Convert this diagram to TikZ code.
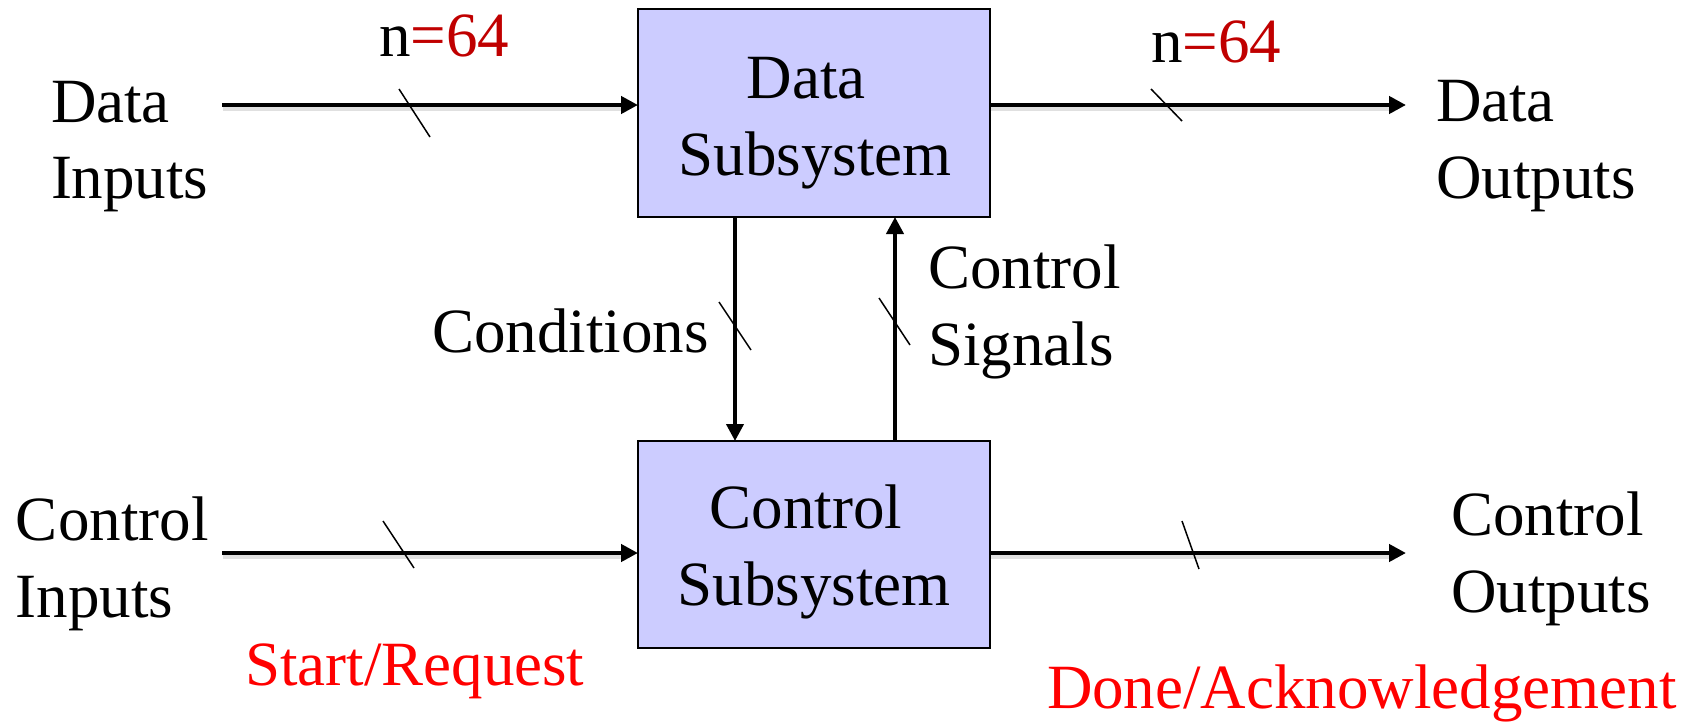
\documentclass[tikz,border=0pt]{standalone}
\usepackage{fontspec}
\setmainfont{Liberation Serif}
\usetikzlibrary{arrows.meta}
\definecolor{boxfill}{RGB}{204,204,255}
\definecolor{darkred}{RGB}{192,0,0}
\definecolor{brightred}{RGB}{255,0,0}
\begin{document}
\begin{tikzpicture}[x=1pt,y=-1pt,
  every node/.style={font=\fontsize{63}{77}\selectfont, inner sep=0pt, outer sep=0pt},
  sysbox/.style={draw=black, line width=2.5pt, fill=boxfill, minimum width=352pt, inner sep=0pt},
  arr/.style={line width=4.8pt, -{Triangle[length=17pt,width=17pt]}},
  shade/.style={line width=5pt, draw=black!12, transform canvas={xshift=1pt, yshift=-3pt}},
  tick/.style={line width=1.5pt},
  lbl/.style={anchor=base west},
  ctr/.style={anchor=base}
]
\useasboundingbox (0,0) rectangle (1703,723);

% boxes
\node[sysbox, minimum height=208pt] (ds) at (814,113) {};
\node[sysbox, minimum height=207pt] (cs) at (814,544.5) {};

% box texts
\node[ctr] (ds1) at (806,98) {Data};
\node[ctr] (ds2) at (815,175) {Subsystem};
\node[ctr] (cs1) at (806,528) {Control};
\node[ctr] (cs2) at (814,605) {Subsystem};

% side labels
\node[lbl] (di1) at (51,122) {Data};
\node[lbl] (di2) at (51,198) {Inputs};
\node[lbl] (do1) at (1436,121) {Data};
\node[lbl] (do2) at (1436,198) {Outputs};
\node[lbl] (ci1) at (16,540) {Control};
\node[lbl] (ci2) at (16,617) {Inputs};
\node[lbl] (co1) at (1451,535) {Control};
\node[lbl] (co2) at (1451,612) {Outputs};
\node[lbl] (cond) at (432,352) {Conditions};
\node[lbl] (sg1) at (928,288) {Control};
\node[lbl] (sg2) at (928,365) {Signals};
\node[lbl] (n1) at (379,56) {n\textcolor{darkred}{=64}};
\node[lbl] (n2) at (1151,62) {n\textcolor{darkred}{=64}};
\node[lbl, text=brightred] (req) at (245,685) {Start/Request};
\node[lbl, text=brightred] (ack) at (1047,708) {Done/Acknowledgement};

% connectors
\coordinate (diS) at (222,105);
\coordinate (doE) at (1406,105);
\coordinate (ciS) at (222,553);
\coordinate (coE) at (1406,553);
\coordinate (cndX) at (735,0);
\coordinate (sigX) at (895,0);
\draw[shade] (diS) -- ([xshift=-12pt]diS -| ds.west);
\draw[shade] (doE -| ds.east) -- ([xshift=-12pt]doE);
\draw[shade] (ciS) -- ([xshift=-12pt]ciS -| cs.west);
\draw[shade] (coE -| cs.east) -- ([xshift=-12pt]coE);
\draw[arr] (diS) -- (diS -| ds.west);
\draw[arr] (doE -| ds.east) -- (doE);
\draw[arr] (ciS) -- (ciS -| cs.west);
\draw[arr] (coE -| cs.east) -- (coE);
\draw[arr, line width=4pt] (cndX |- ds.south) -- (cndX |- cs.north);
\draw[arr, line width=4pt] (sigX |- cs.north) -- (sigX |- ds.south);

% bus ticks
\draw[tick] (399,89) -- (430,137);
\draw[tick] (1151,89) -- (1182,121);
\draw[tick] (383,521) -- (414,568);
\draw[tick] (1182,521) -- (1199,569);
\draw[tick] (719,302) -- (751,350);
\draw[tick] (879,298) -- (910,345);
\end{tikzpicture}
\end{document}
